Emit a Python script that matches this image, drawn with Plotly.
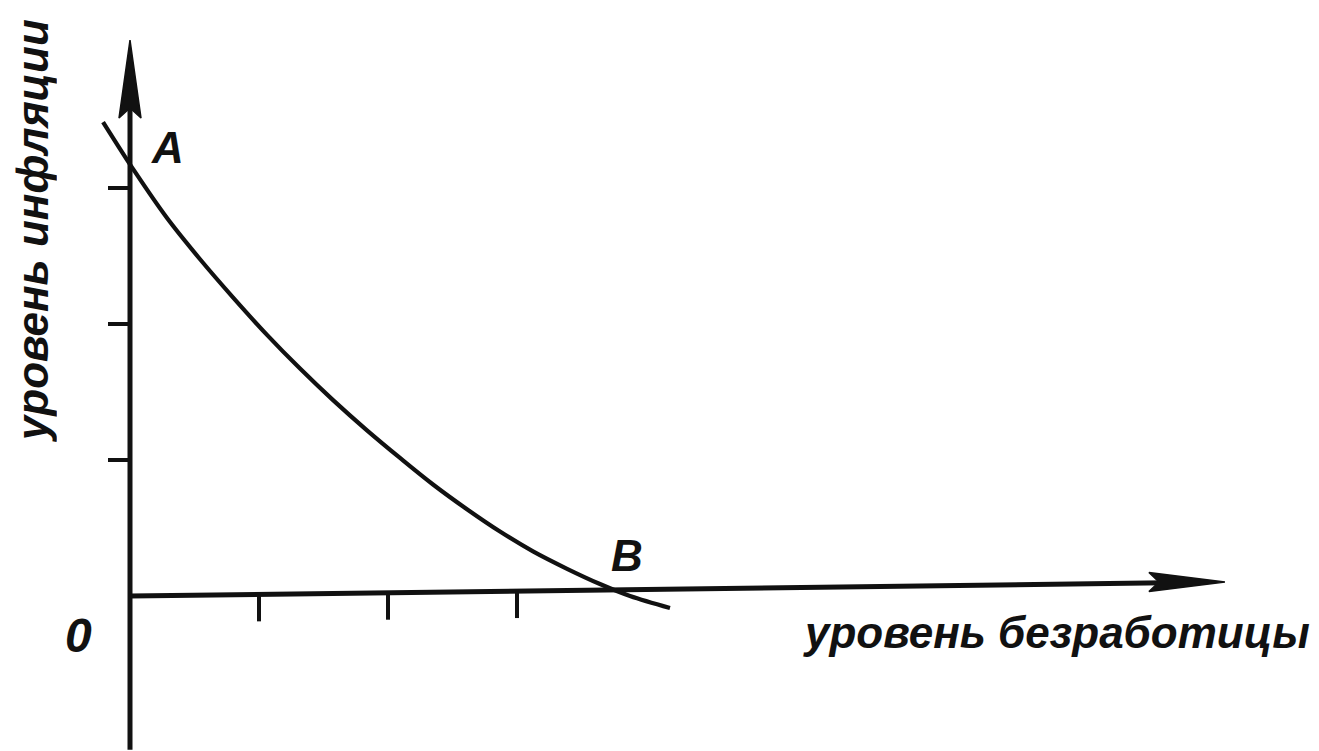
import plotly.graph_objects as go

# ---- data (units: one tick spacing) ----
unemployment = [-0.209, 0.039, 0.287, 0.543, 0.798, 1.062, 1.318, 1.574, 1.837,
                2.093, 2.349, 2.612, 2.868, 3.124, 3.388, 3.643, 3.876, 4.186]
inflation = [3.485, 3.118, 2.779, 2.476, 2.196, 1.920, 1.672, 1.440, 1.218,
             1.015, 0.820, 0.638, 0.474, 0.328, 0.200, 0.088, 0.0, -0.088]
x_ticks = [1, 2, 3]
y_ticks = [1, 2, 3]
x_axis_end = 8.488      # arrow tip of the unemployment axis
x_axis_rise = 0.103     # hand-drawn slight rise of the x axis at its tip
y_axis_top = 4.088      # arrow tip of the inflation axis
y_axis_bottom = -1.13
point_labels = ["A", "B"]
point_label_x = [0.287, 3.853]
point_label_y = [3.3, 0.3]
origin_label = "0"
x_title = "уровень безработицы"
y_title = "уровень инфляции"

# scale (pixels per unit) used for arrowhead / tick sizing
PX_X = 129.0
PX_Y = 136.0
OX, OY = 122, 588   # origin position inside the figure (page adds 8px body margin)
INK = "#111111"

def axis_y_at(x):
    return x_axis_rise * x / x_axis_end

fig = go.Figure()

# axes lines
fig.add_trace(go.Scatter(x=[0, 0], y=[y_axis_bottom, y_axis_top - 60 / PX_Y],
                         mode="lines", line=dict(color=INK, width=5),
                         hoverinfo="skip", showlegend=False))
xe = x_axis_end - 60 / PX_X
fig.add_trace(go.Scatter(x=[0, xe], y=[0, axis_y_at(xe)],
                         mode="lines", line=dict(color=INK, width=5),
                         hoverinfo="skip", showlegend=False))

# arrowheads
L, W, N = 78, 11, 10
tip = y_axis_top
fig.add_trace(go.Scatter(
    x=[0, -W / PX_X, 0, W / PX_X, 0],
    y=[tip, tip - L / PX_Y, tip - (L - N) / PX_Y, tip - L / PX_Y, tip],
    mode="lines", fill="toself", fillcolor=INK, line=dict(color=INK, width=1.5),
    hoverinfo="skip", showlegend=False))
L2, W2, N2 = 76, 9.5, 10
tx, ty = x_axis_end, x_axis_rise
fig.add_trace(go.Scatter(
    x=[tx, tx - L2 / PX_X, tx - (L2 - N2) / PX_X, tx - L2 / PX_X, tx],
    y=[ty, ty + W2 / PX_Y, ty, ty - W2 / PX_Y, ty],
    mode="lines", fill="toself", fillcolor=INK, line=dict(color=INK, width=1.5),
    hoverinfo="skip", showlegend=False))

# ticks
for t in x_ticks:
    a = axis_y_at(t)
    fig.add_trace(go.Scatter(x=[t, t], y=[a, a - 27 / PX_Y], mode="lines",
                             line=dict(color=INK, width=4),
                             hoverinfo="skip", showlegend=False))
for t in y_ticks:
    fig.add_trace(go.Scatter(x=[0, -22 / PX_X], y=[t, t], mode="lines",
                             line=dict(color=INK, width=4),
                             hoverinfo="skip", showlegend=False))

# Phillips curve
fig.add_trace(go.Scatter(x=unemployment, y=inflation, mode="lines",
                         line=dict(color=INK, width=4.2, shape="spline", smoothing=1.0),
                         hoverinfo="skip", showlegend=False))

FONT = "Liberation Sans, Arial, sans-serif"
for lab, lx, ly in zip(point_labels, point_label_x, point_label_y):
    fig.add_annotation(x=lx, y=ly, text=f"<b><i>{lab}</i></b>", showarrow=False,
                       font=dict(family=FONT, size=44, color=INK))
fig.add_annotation(x=-0.403, y=-0.29, text=f"<b><i>{origin_label}</i></b>", showarrow=False,
                   font=dict(family=FONT, size=48, color=INK))
fig.add_annotation(x=7.186, y=-0.272, text=f"<b><i>{x_title}</i></b>", showarrow=False,
                   font=dict(family=FONT, size=44, color=INK))
fig.add_annotation(x=-0.752, y=2.69, text=f"<b><i>{y_title}</i></b>", showarrow=False,
                   textangle=-90, height=48, borderpad=0,
                   font=dict(family=FONT, size=44, color=INK))

fig.update_layout(
    width=1319, height=751,
    margin=dict(l=0, r=0, t=0, b=0),
    paper_bgcolor="white", plot_bgcolor="white",
    xaxis=dict(range=[-OX / PX_X, (1319 - OX) / PX_X], visible=False, fixedrange=True),
    yaxis=dict(range=[(OY - 751) / PX_Y, OY / PX_Y], visible=False, fixedrange=True),
)

fig.write_html("out.html")
